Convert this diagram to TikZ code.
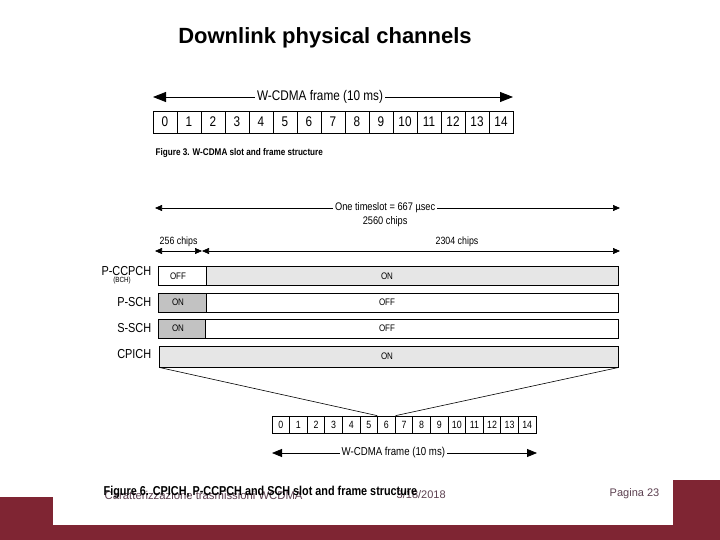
\documentclass[tikz,border=0pt]{standalone}
\usepackage{fontspec}
\setmainfont{Liberation Sans}
\newfontfamily\narrowfont{Liberation Sans}[FakeStretch=0.84]
\usetikzlibrary{arrows.meta, positioning}
\definecolor{slidered}{HTML}{7F2533}
\definecolor{onfill}{HTML}{E6E6E6}
\definecolor{syncfill}{HTML}{C2C2C2}
\definecolor{footgray}{HTML}{5C4050}

\begin{document}
\begin{tikzpicture}[
    x=1pt, y=-1pt,
    line width=0.8pt,
    font=\narrowfont,
    bigslot/.style={draw, line width=0.9pt, minimum width=24pt, minimum height=22pt, inner sep=0pt, text height=10pt, text depth=0pt, font=\narrowfont\fontsize{14}{14}\selectfont},
    smallslot/.style={draw, line width=0.7pt, minimum width=17.6pt, minimum height=17pt, inner sep=0pt, text height=7.5pt, text depth=0pt, font=\narrowfont\fontsize{10.5}{10.5}\selectfont},
    chanbar/.style={draw, line width=0.8pt, minimum height=19pt, inner sep=0pt},
    channame/.style={anchor=east, font=\narrowfont\fontsize{13}{13}\selectfont},
    onoff/.style={font=\narrowfont\fontsize{9.5}{9.5}\selectfont},
    spanlabel/.style={fill=white, inner sep=2pt, font=\narrowfont\fontsize{11}{11}\selectfont}
]

    % Slide background and footer band
    \fill[white] (0,0) rectangle (720,540);
    \useasboundingbox (0,0) rectangle (720,540);
    \fill[slidered] (0,497) rectangle (53,540);
    \fill[slidered] (673,480) rectangle (720,540);
    \fill[slidered] (0,525) rectangle (720,540);

    % Title
    \node[font=\fontsize{22}{22}\selectfont\bfseries] (title) at (325,38) {Downlink physical channels};

    % Upper frame: 15 slots
    \foreach \i in {0,...,14}
        \node[bigslot] (t\i) at (165+24*\i,122) {\i};
    \coordinate (tl) at (153,97);
    \coordinate (tr) at (513,97);
    \draw[{Triangle[length=13pt,width=10pt]}-{Triangle[length=13pt,width=10pt]}] (tl) -- (tr)
        node[pos=0.464, spanlabel, font=\narrowfont\fontsize{14}{14}\selectfont] (tframe) {W-CDMA frame (10 ms)};
    \node[anchor=west, font=\narrowfont\fontsize{9.7}{9.7}\selectfont\bfseries] (cap3) at (152,153) {Figure 3. W-CDMA slot and frame structure};

    % Timeslot and chip spans
    \coordinate (sl) at (155,208);
    \coordinate (sr) at (620,208);
    \draw[{Triangle[length=7pt,width=6pt]}-{Triangle[length=7pt,width=6pt]}, line width=0.7pt] (sl) -- (sr)
        node[pos=0.495, spanlabel] (slotlen) {One timeslot = 667 \textmu sec};
    \node[below=0pt of slotlen, font=\narrowfont\fontsize{11}{11}\selectfont, inner sep=1pt] (chips) {2560 chips};
    \coordinate (cl) at (155,251);
    \coordinate (cm) at (202,251);
    \coordinate (cr) at (620,251);
    \draw[{Triangle[length=7pt,width=6pt]}-{Triangle[length=7pt,width=6pt]}, line width=0.7pt] (cl) -- (cm);
    \draw[{Triangle[length=7pt,width=6pt]}-{Triangle[length=7pt,width=6pt]}, line width=0.7pt] (cm) -- (cr);
    \node[anchor=west, font=\narrowfont\fontsize{10.5}{10.5}\selectfont] (c256) at (156,242) {256 chips};
    \node[font=\narrowfont\fontsize{10.5}{10.5}\selectfont] (c2304) at (457,242) {2304 chips};

    % Channel bars
    \node[chanbar, fill=white, minimum width=48pt] (pcoff) at (182,276) {};
    \node[chanbar, fill=onfill, minimum width=412pt] (pcon) at (412,276) {};
    \node[chanbar, fill=syncfill, minimum width=48pt] (pson) at (182,302.5) {};
    \node[chanbar, fill=white, minimum width=412pt] (psoff) at (412,302.5) {};
    \node[chanbar, fill=syncfill, minimum width=47pt] (sson) at (181.5,328.5) {};
    \node[chanbar, fill=white, minimum width=413pt] (ssoff) at (411.5,328.5) {};
    \node[chanbar, fill=onfill, minimum width=459pt, minimum height=21pt] (cpich) at (389,356.5) {};

    \node[onoff] at (178,276) {OFF};
    \node[onoff] at (387,276) {ON};
    \node[onoff] at (178,302.5) {ON};
    \node[onoff] at (387,302.5) {OFF};
    \node[onoff] at (178,328.5) {ON};
    \node[onoff] at (387,328.5) {OFF};
    \node[onoff] at (387,356.5) {ON};

    % Channel names
    \node[channame] (npc) at (155,271) {P-CCPCH};
    \node[font=\narrowfont\fontsize{7.5}{7.5}\selectfont] (nbch) at (122,281) {(BCH)};
    \node[channame] (nps) at (155,302.5) {P-SCH};
    \node[channame] (nss) at (155,328.5) {S-SCH};
    \node[channame] (ncp) at (155,354) {CPICH};

    % Lower frame: 15 slots
    \foreach \i in {0,...,14}
        \node[smallslot] (b\i) at (280.8+17.6*\i,424.5) {\i};

    % Zoom lines from CPICH slot to slot 6
    \draw[line width=0.6pt] (cpich.south west) -- (b6.north west);
    \draw[line width=0.6pt] (cpich.south east) -- (b6.north east);

    \coordinate (bl) at (272,453);
    \coordinate (br) at (537,453);
    \draw[{Triangle[length=10pt,width=8pt]}-{Triangle[length=10pt,width=8pt]}] (bl) -- (br)
        node[pos=0.458, spanlabel, font=\narrowfont\fontsize{11.5}{11.5}\selectfont] (bframe) {W-CDMA frame (10 ms)};

    % Footer texts and caption
    \node[anchor=west, text=footgray, font=\fontsize{11.3}{11.3}\selectfont] (foot) at (101,495) {Caratterizzazione trasmissioni WCDMA};
    \node[anchor=west, text=footgray, font=\fontsize{11}{11}\selectfont] (date) at (393,495) {3/18/2018};
    \node[anchor=west, text=footgray, font=\fontsize{11}{11}\selectfont] (page) at (606,494) {Pagina 23};
    \node[anchor=west, font=\narrowfont\fontsize{12.9}{12.9}\selectfont\bfseries] (cap6) at (100,492) {Figure 6. CPICH, P-CCPCH and SCH slot and frame structure};

\end{tikzpicture}
\end{document}
